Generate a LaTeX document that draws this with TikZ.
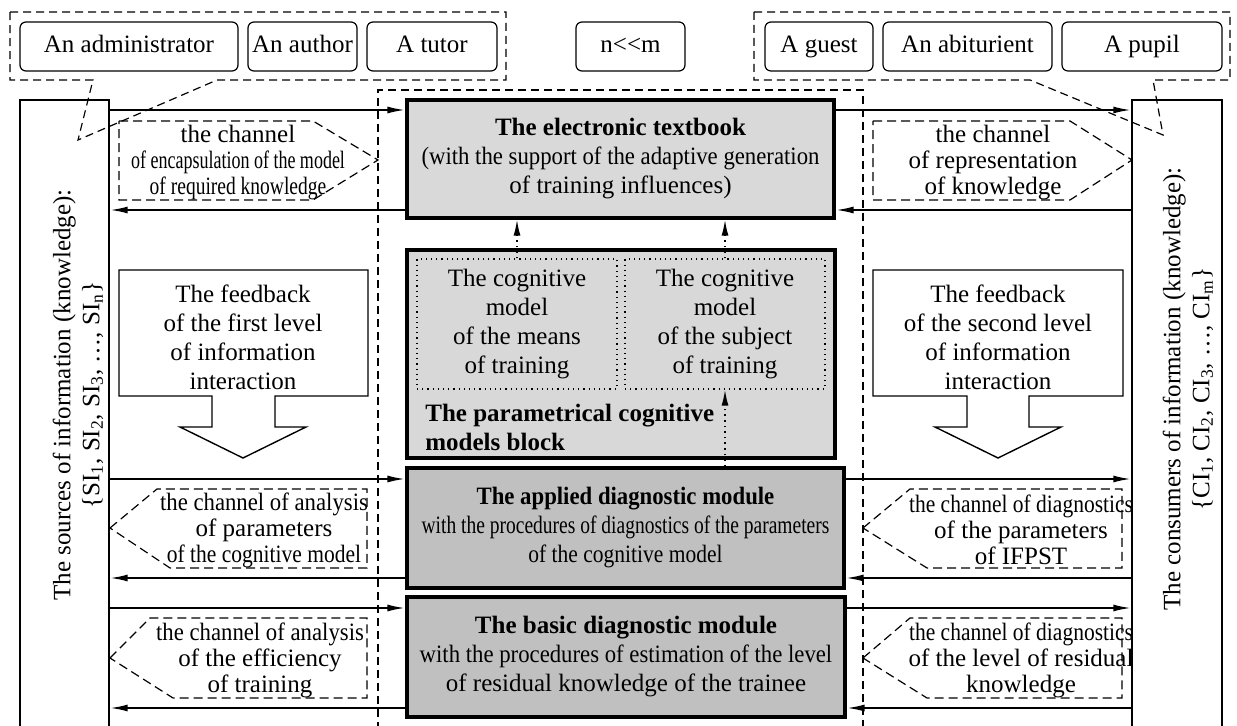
\documentclass[tikz,border=0pt]{standalone}
\usepackage{fontspec}
\setmainfont{Liberation Serif}
\newfontfamily\narrowA[FakeStretch=0.72]{Liberation Serif}
\newfontfamily\narrowB[FakeStretch=0.78]{Liberation Serif}
\newfontfamily\narrowC[FakeStretch=0.86]{Liberation Serif}
\newfontfamily\narrowD[FakeStretch=0.91]{Liberation Serif}
\usetikzlibrary{arrows.meta,positioning}
\definecolor{lightfill}{HTML}{D9D9D9}
\definecolor{dotfill}{HTML}{D8D8D8}
\definecolor{darkfill}{HTML}{C0C0C0}

\begin{document}
\begin{tikzpicture}[x=0.5pt,y=-0.5pt,font=\fontsize{12.5}{14.5}\selectfont,
  actor/.style={draw,rounded corners=3pt,line width=0.6pt,minimum height=24.5pt,inner sep=0pt,
    text height=8.5pt,text depth=2.5pt},
  side/.style={draw,line width=0.7pt,minimum height=315pt,inner sep=0pt},
  mainblk/.style={draw,line width=1.6pt,inner sep=0pt,align=center},
  submod/.style={draw,dotted,line width=0.6pt,fill=dotfill,minimum width=100pt,minimum height=65pt,align=center,inner sep=0pt},
  grp/.style={line width=0.6pt,dash pattern=on 4pt off 2.5pt},
  chan/.style={line width=0.6pt,dash pattern=on 4.5pt off 2.5pt},
  chantxt/.style={align=center,inner sep=0pt,font=\fontsize{12.5}{13}\selectfont},
  flow/.style={line width=1pt,-{Latex[length=9pt,width=3.5pt]}},
  link/.style={dotted,line width=0.8pt,-{Latex[length=8pt,width=3.5pt]}},
  fbshape/.style={line width=0.7pt,fill=white},
  txt/.style={align=center,inner sep=0pt}]

  \useasboundingbox (0,0) rectangle (1237,726);

  % --- groups of users ---
  \draw[grp] (10,12) -- (506,12) -- (506,80) -- (217,80) -- (78,140) -- (93,80) -- (10,80) -- cycle;
  \draw[grp] (754,12) -- (1230,12) -- (1230,80) -- (1153,80) -- (1163,135) -- (1030,80) -- (754,80) -- cycle;
  \node[actor,minimum width=109pt] (admin) at (129,46.5) {An administrator};
  \node[actor,minimum width=54.5pt] (author) at (302.5,46.5) {An author};
  \node[actor,minimum width=65pt] (tutor) at (432,46.5) {A tutor};
  \node[actor,minimum width=54.5pt] (ratio) at (630.5,46.5) {n<\kern0pt<m};
  \node[actor,minimum width=54pt] (guest) at (819,46.5) {A guest};
  \node[actor,minimum width=84.5pt] (abit) at (967.5,46.5) {An abiturient};
  \node[actor,minimum width=80pt] (pupil) at (1142,46.5) {A pupil};

  % --- sources and consumers ---
  \node[side,minimum width=44.5pt] (src) at (64.5,415) {};
  \node[side,minimum width=45pt] (dst) at (1177,415) {};
  \node[txt,rotate=90] (srctxt) at (78,395) {The sources of information (knowledge):\\
    \{SI\textsubscript{1}, SI\textsubscript{2}, SI\textsubscript{3}, \ldots, SI\textsubscript{n}\}};
  \node[txt,rotate=90] (dsttxt) at (1188,389) {The consumers of information (knowledge):\\
    \{CI\textsubscript{1}, CI\textsubscript{2}, CI\textsubscript{3}, \ldots, CI\textsubscript{m}\}};

  % --- central system ---
  \draw[grp] (378,730) -- (378,90) -- (863,90) -- (863,730);
  \node[mainblk,fill=lightfill,minimum width=213.5pt,minimum height=59pt] (book) at (620.5,159)
    {\textbf{The electronic textbook}\\{\narrowD(with the support of the adaptive generation}\\of training influences)};
  \node[mainblk,fill=dotfill,minimum width=214pt,minimum height=104pt] (pcm) at (621,354) {};
  \node[submod] (means) at (517,324) {The cognitive\\model\\of the means\\of training};
  \node[submod] (subj) at (725,324) {The cognitive\\model\\of the subject\\of training};
  \node[anchor=west,align=left,inner sep=0pt] (pcmtxt) at (425,427) {\bfseries The parametrical cognitive\\\bfseries models block};
  \node[mainblk,fill=darkfill,minimum width=218.5pt,minimum height=60pt] (appl) at (625.5,528)
    {{\narrowD\bfseries The applied diagnostic module}\\{\narrowB with the procedures of diagnostics of the parameters}\\{\narrowC of the cognitive model}};
  \node[mainblk,fill=darkfill,minimum width=219pt,minimum height=60pt] (basic) at (626,657)
    {\textbf{The basic diagnostic module}\\{\narrowD with the procedures of estimation of the level}\\of residual knowledge of the trainee};
  \draw[link] (means.north) -- (means.north |- book.south);
  \draw[link] (subj.north) -- (subj.north |- book.south);
  \draw[link] (subj.south |- appl.north) -- (subj.south);

  % --- information flows ---
  \draw[flow] (src.east |- 0,110) -- (book.west |- 0,110);
  \draw[flow] (book.west |- 0,210) -- (src.east |- 0,210);
  \draw[flow] (book.east |- 0,110) -- (dst.west |- 0,110);
  \draw[flow] (dst.west |- 0,210) -- (book.east |- 0,210);
  \draw[flow] (src.east |- 0,479) -- (appl.west |- 0,479);
  \draw[flow] (appl.west |- 0,578) -- (src.east |- 0,578);
  \draw[flow] (appl.east |- 0,479) -- (dst.west |- 0,479);
  \draw[flow] (dst.west |- 0,578) -- (appl.east |- 0,578);
  \draw[flow] (src.east |- 0,608) -- (basic.west |- 0,608);
  \draw[flow] (basic.west |- 0,708) -- (src.east |- 0,708);
  \draw[flow] (basic.east |- 0,608) -- (dst.west |- 0,608);
  \draw[flow] (dst.west |- 0,708) -- (basic.east |- 0,708);

  % --- channels ---
  \draw[chan] (119,121) -- (313,121) -- (378,160) -- (313,200) -- (119,200) -- cycle;
  \node[chantxt] (chenc) at (238,163) {the channel\\{\narrowA of encapsulation of the model}\\{\narrowB of required knowledge}};
  \draw[chan] (873,121) -- (1070,121) -- (1132,160) -- (1070,200) -- (873,200) -- cycle;
  \node[chantxt] (chrep) at (993,163) {the channel\\of representation\\of knowledge};
  \draw[chan] (110,528) -- (157,489) -- (367,489) -- (367,568) -- (170,568) -- cycle;
  \node[chantxt] (chpar) at (264,530) {{\narrowD the channel of analysis}\\of parameters\\{\narrowC of the cognitive model}};
  \draw[chan] (110,658) -- (150,618) -- (367,618) -- (367,698) -- (173,698) -- cycle;
  \node[chantxt] (cheff) at (260,660) {{\narrowD the channel of analysis}\\of the efficiency\\of training};
  \draw[chan] (863,528) -- (910,489) -- (1122,489) -- (1122,568) -- (927,568) -- cycle;
  \node[chantxt] (chifp) at (1021,530) {{\narrowC the channel of diagnostics}\\of the parameters\\of IFPST};
  \draw[chan] (863,658) -- (910,618) -- (1122,618) -- (1122,698) -- (927,698) -- cycle;
  \node[chantxt] (chres) at (1021,660) {{\narrowC the channel of diagnostics}\\of the level of residual\\knowledge};

  % --- feedback ---
  \draw[fbshape] (119,270) -- (368,270) -- (368,396) -- (275,396) -- (275,427) -- (306,427) -- (243,458)
    -- (180,427) -- (212,427) -- (212,396) -- (119,396) -- cycle;
  \node[txt] (fbone) at (243,337) {The feedback\\of the first level\\of information\\interaction};
  \draw[fbshape] (873,270) -- (1123,270) -- (1123,396) -- (1029,396) -- (1029,427) -- (1061,427) -- (998,458)
    -- (935,427) -- (967,427) -- (967,396) -- (873,396) -- cycle;
  \node[txt] (fbtwo) at (998,337) {The feedback\\of the second level\\of information\\interaction};
\end{tikzpicture}
\end{document}
